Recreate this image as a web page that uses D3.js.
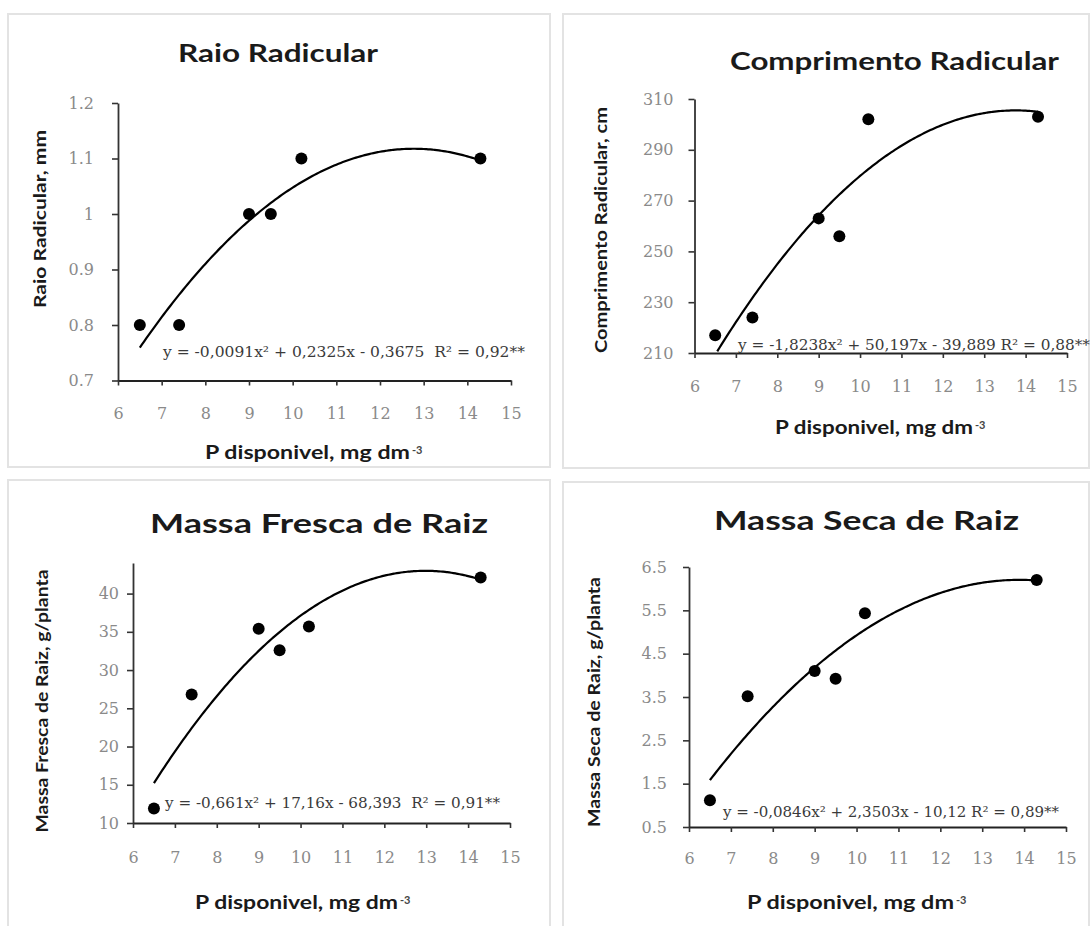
<!DOCTYPE html>
<html>
<head>
<meta charset="utf-8">
<script src="https://cdn.jsdelivr.net/npm/d3@7"></script>
<style>
  html, body { margin: 0; padding: 0; background: #ffffff; }
  svg { display: block; }
</style>
</head>
<body>
<svg id="chart" width="1091" height="926"></svg>
<script>
// ---------------- DATA ----------------
const pDisponivel = [6.5, 7.4, 9.0, 9.5, 10.2, 14.3];
const xTickValues = [6, 7, 8, 9, 10, 11, 12, 13, 14, 15];

const raioValues        = [0.80, 0.80, 1.00, 1.00, 1.10, 1.10];
const comprimentoValues = [217, 224, 263, 256, 302, 303];
const frescaValues      = [11.9, 26.8, 35.4, 32.6, 35.7, 42.1];
const secaValues        = [1.12, 3.52, 4.10, 3.92, 5.43, 6.20];

const raioTicks        = [0.7, 0.8, 0.9, 1, 1.1, 1.2];
const comprimentoTicks = [210, 230, 250, 270, 290, 310];
const frescaTicks      = [10, 15, 20, 25, 30, 35, 40];
const secaTicks        = [0.5, 1.5, 2.5, 3.5, 4.5, 5.5, 6.5];

// quadratic trendline coefficients [a, b, c] for y = a x^2 + b x + c (printed on the chart)
const raioCoef        = [-0.0091, 0.2325, -0.3675];
const comprimentoCoef = [-1.8238, 50.197, -39.889];
const frescaCoef      = [-0.661, 17.16, -68.393];
const secaCoef        = [-0.0846, 2.3503, -10.12];

const titles = ["Raio Radicular", "Comprimento Radicular", "Massa Fresca de Raiz", "Massa Seca de Raiz"];
const yTitles = ["Raio Radicular, mm", "Comprimento Radicular, cm", "Massa Fresca de Raiz, g/planta", "Massa Seca de Raiz, g/planta"];
const xTitle = "P disponivel, mg dm";
const xTitleSup = "-3";
const equations = [
  "y = -0,0091x\u00B2 + 0,2325x - 0,3675\u00A0\u00A0R\u00B2 = 0,92**",
  "y = -1,8238x\u00B2 + 50,197x - 39,889\u00A0R\u00B2 = 0,88**",
  "y = -0,661x\u00B2 + 17,16x - 68,393\u00A0\u00A0R\u00B2 = 0,91**",
  "y = -0,0846x\u00B2 + 2,3503x - 10,12 R\u00B2 = 0,89**"
];

// ---------------- LAYOUT ----------------
const panels = [
  { values: raioValues, ticks: raioTicks, coef: raioCoef, yDomain: [0.7, 1.2], fmt: d => String(d),
    box: [8, 14, 550, 467], xr: [118, 511], yr: [380.5, 103], tickPad: 18, xLabOff: 32.5,
    title: { x: 178, y: 62, w: 200, size: 24 },
    yt: { x: 40, y: 219, w: 178 }, xt: { x: 205, y: 453, w: 219 },
    eq: { x: 163, y: 352, w: 362 } },
  { values: comprimentoValues, ticks: comprimentoTicks, coef: comprimentoCoef, yDomain: [210, 310], fmt: d => String(d),
    box: [563, 14, 1089, 468], xr: [694.5, 1067], yr: [353, 99], tickPad: 15, xLabOff: 33,
    title: { x: 730, y: 70, w: 329, size: 25 },
    yt: { x: 601, y: 230, w: 246 }, xt: { x: 775, y: 428, w: 212 },
    eq: { x: 738, y: 345, w: 352 } },
  { values: frescaValues, ticks: frescaTicks, coef: frescaCoef, yDomain: [10, 44], fmt: d => String(d),
    box: [8, 480, 550, 960], xr: [133, 510], yr: [823, 563], tickPad: 8, xLabOff: 34,
    title: { x: 150, y: 533, w: 338, size: 26.5 },
    yt: { x: 42, y: 701, w: 263 }, xt: { x: 195, y: 903, w: 217 },
    eq: { x: 165, y: 803, w: 335 } },
  { values: secaValues, ticks: secaTicks, coef: secaCoef, yDomain: [0.5, 6.5], fmt: d => d.toFixed(1),
    box: [563, 482, 1089, 960], xr: [689, 1066], yr: [827, 567], tickPad: 16, xLabOff: 31,
    title: { x: 714, y: 530, w: 305, size: 26.5 },
    yt: { x: 594, y: 702, w: 250 }, xt: { x: 747, y: 903, w: 221 },
    eq: { x: 723, y: 812, w: 336 } }
];

const svg = d3.select("#chart");
const titleFont = "Lato, 'Open Sans', sans-serif";
const tickFont = "'DejaVu Serif', serif";

panels.forEach((p, i) => {
  const g = svg.append("g");

  // panel frame
  g.append("rect")
    .attr("x", p.box[0]).attr("y", p.box[1])
    .attr("width", p.box[2] - p.box[0]).attr("height", p.box[3] - p.box[1])
    .attr("fill", "none").attr("stroke", "#e3e3e3").attr("stroke-width", 2);

  const x = d3.scaleLinear().domain([6, 15]).range(p.xr);
  const y = d3.scaleLinear().domain(p.yDomain).range(p.yr);

  // y axis
  const yAxis = g.append("g")
    .attr("transform", `translate(${p.xr[0]},0)`)
    .call(d3.axisLeft(y).tickValues(p.ticks).tickFormat(p.fmt).tickSize(6).tickSizeOuter(0).tickPadding(p.tickPad));
  yAxis.select(".domain").attr("stroke", "#333").attr("stroke-width", 1.8);
  yAxis.selectAll(".tick line").attr("stroke", "#333").attr("stroke-width", 1.6);
  yAxis.selectAll(".tick text").attr("fill", "#8a8a8a").style("font-family", tickFont).style("font-size", "16px");

  // x axis
  const xAxis = g.append("g")
    .attr("transform", `translate(0,${p.yr[0]})`)
    .call(d3.axisBottom(x).tickValues(xTickValues).tickFormat(d3.format("d")).tickSize(5).tickSizeOuter(0));
  xAxis.select(".domain").attr("stroke", "#222").attr("stroke-width", 1.8);
  xAxis.selectAll(".tick line").attr("stroke", "#333").attr("stroke-width", 1.6);
  xAxis.selectAll(".tick text")
    .attr("y", p.xLabOff).attr("dy", "0.35em")
    .attr("fill", "#8a8a8a").style("font-family", tickFont).style("font-size", "16px");

  // trendline from printed coefficients
  const [a, b, c] = p.coef;
  const xMin = d3.min(pDisponivel), xMax = d3.max(pDisponivel);
  const curvePts = d3.range(xMin, xMax + 1e-9, 0.05).map(v => [v, a * v * v + b * v + c])
    .filter(d => d[1] >= p.yDomain[0]);
  g.append("path")
    .datum(curvePts)
    .attr("fill", "none").attr("stroke", "#000").attr("stroke-width", 2.2)
    .attr("d", d3.line().x(d => x(d[0])).y(d => y(d[1])).curve(d3.curveMonotoneX));

  // points
  g.selectAll("circle.pt")
    .data(pDisponivel.map((v, k) => [v, p.values[k]]))
    .join("circle")
    .attr("class", "pt")
    .attr("cx", d => x(d[0])).attr("cy", d => y(d[1]))
    .attr("r", 6).attr("fill", "#000");

  // equation
  g.append("text")
    .attr("x", p.eq.x).attr("y", p.eq.y).attr("dy", "0.35em")
    .attr("textLength", p.eq.w).attr("lengthAdjust", "spacingAndGlyphs")
    .attr("fill", "#3a3a3a").style("font-family", tickFont).style("font-size", "14px")
    .text(equations[i]);

  // title
  g.append("text")
    .attr("x", p.title.x).attr("y", p.title.y)
    .attr("textLength", p.title.w).attr("lengthAdjust", "spacingAndGlyphs")
    .attr("fill", "#1a1a1a").style("font-family", titleFont).style("font-weight", 700)
    .style("font-size", p.title.size + "px")
    .text(titles[i]);

  // y title
  g.append("text")
    .attr("transform", `translate(${p.yt.x},${p.yt.y}) rotate(-90)`)
    .attr("text-anchor", "middle").attr("dy", "0.35em")
    .attr("textLength", p.yt.w).attr("lengthAdjust", "spacingAndGlyphs")
    .attr("fill", "#1a1a1a").style("font-family", titleFont).style("font-weight", 700)
    .style("font-size", "17px")
    .text(yTitles[i]);

  // x title
  const xt = g.append("text")
    .attr("x", p.xt.x).attr("y", p.xt.y).attr("dy", "0.35em")
    .attr("fill", "#1a1a1a").style("font-family", titleFont).style("font-weight", 700)
    .style("font-size", "18px");
  xt.append("tspan")
    .attr("textLength", p.xt.w - 14).attr("lengthAdjust", "spacingAndGlyphs")
    .text(xTitle);
  xt.append("tspan").attr("dx", 2).attr("dy", "-0.45em").style("font-size", "11px").attr("fill", "#444").text(xTitleSup);
});
</script>
</body>
</html>
